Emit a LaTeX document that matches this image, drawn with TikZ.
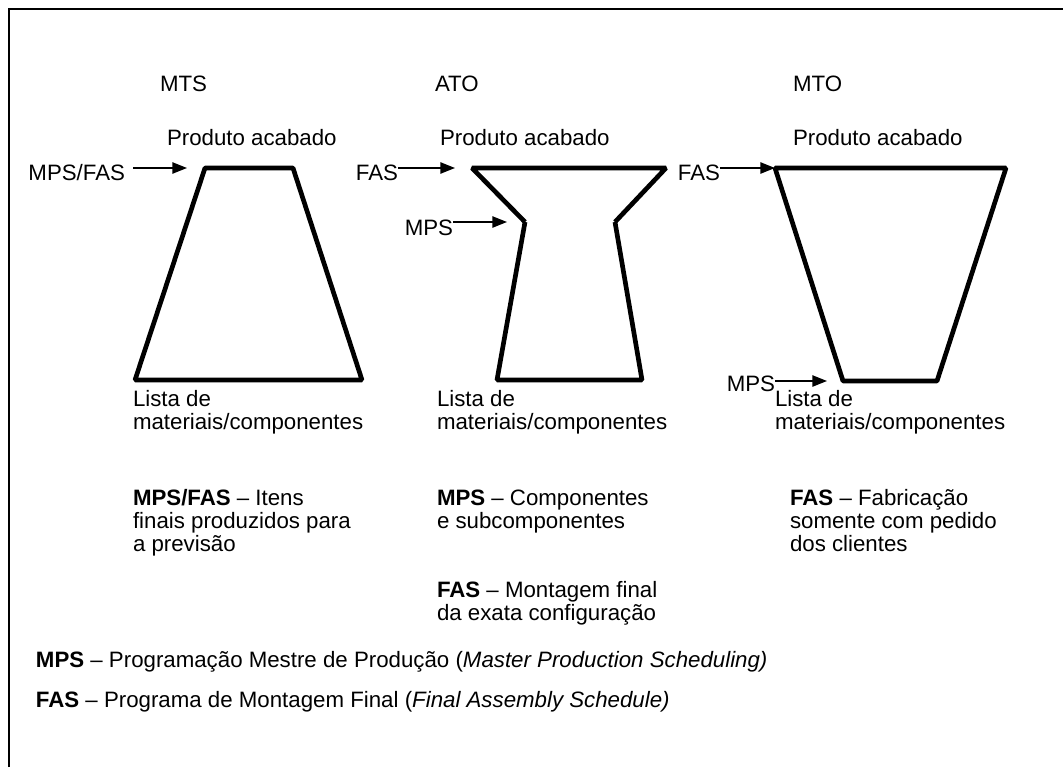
\documentclass[tikz,border=0pt]{standalone}
\usepackage{fontspec}
\setmainfont{Liberation Sans}
\usetikzlibrary{arrows.meta}
% left-aligned block of lines whose baseline is that of its first line
\newcommand\txtlines[1]{\vtop{\halign{##\hfil\cr#1\crcr}}}
\begin{document}
\begin{tikzpicture}[x=0.75pt,y=-0.75pt,
  every node/.style={inner sep=0pt,outer sep=0pt,anchor=base west,
    font=\fontsize{16.7pt}{17.6pt}\selectfont},
  funnel/.style={line width=3.5pt,line join=bevel},
  feed/.style={line width=1.1pt,-{Triangle[length=11pt,width=8.5pt]}},
  frame/.style={line width=1.1pt}]
\useasboundingbox (0,0) rectangle (1063,767);
% outer frame
\draw[frame] (9,767) -- (9,9) -- (1063,9);

% column titles
\node (tmts) at (160,92) {MTS};
\node (tato) at (435,92) {ATO};
\node (tmto) at (793,92) {MTO};
\node (pmts) at (167,145) {Produto acabado};
\node (pato) at (440,145) {Produto acabado};
\node (pmto) at (793,145) {Produto acabado};

% MTS: narrow top, wide base
\coordinate (m1) at (205,168);
\coordinate (m2) at (293,168);
\coordinate (m3) at (362,380);
\coordinate (m4) at (135,380);
\draw[funnel] (m1) -- (m2) -- (m3) -- (m4) -- cycle;

% ATO: waisted shape
\coordinate (a1) at (472,168);
\coordinate (a2) at (666,168);
\coordinate (a3) at (615,222);
\coordinate (a4) at (642,380);
\coordinate (a5) at (497,380);
\coordinate (a6) at (525,222);
\draw[funnel] (a6) -- (a1) -- (a2) -- (a3);
\draw[funnel] (a6) -- (a5) -- (a4) -- (a3);

% MTO: wide top, narrow base
\coordinate (o1) at (775,168);
\coordinate (o2) at (1006,168);
\coordinate (o3) at (937,381);
\coordinate (o4) at (843,381);
\draw[funnel] (o1) -- (o2) -- (o3) -- (o4) -- cycle;

% schedule entry points
\node[anchor=base east] (lmf) at (125,180) {MPS/FAS};
\coordinate (emf) at (187,168);
\draw[feed] (lmf.east |- emf) ++(8,0) -- (emf);

\node[anchor=base east] (laf) at (398,180) {FAS};
\coordinate (eaf) at (455,168);
\draw[feed] (laf.east |- eaf) -- (eaf);

\node[anchor=base east] (lam) at (453,235) {MPS};
\coordinate (eam) at (507,222);
\draw[feed] (lam.east |- eam) -- (eam);

\node[anchor=base east] (lof) at (720,180) {FAS};
\coordinate (eof) at (775,168);
\draw[feed] (lof.east |- eof) -- (eof);

\node[anchor=base east] (lom) at (775,391) {MPS};
\coordinate (eom) at (827,381);
\draw[feed] (lom.east |- eom) -- (eom);

% bill of materials
\node (bmts) at (133,406) {\txtlines{Lista de\cr materiais/componentes}};
\node (bato) at (437,406) {\txtlines{Lista de\cr materiais/componentes}};
\node (bmto) at (775,406) {\txtlines{Lista de\cr materiais/componentes}};

% descriptions
\node (dmts) at (133,505) {\txtlines{\textbf{MPS/FAS} -- Itens\cr finais produzidos para\cr a previsão}};
\node (dato) at (437,505) {\txtlines{\textbf{MPS} -- Componentes\cr e subcomponentes}};
\node (dato2) at (437,597) {\txtlines{\textbf{FAS} -- Montagem final\cr da exata configuração}};
\node (dmto) at (790,505) {\txtlines{\textbf{FAS} -- Fabricação\cr somente com pedido\cr dos clientes}};

% legend
\node (gmps) at (36,667) {\textbf{MPS} -- Programação Mestre de Produção (\textit{Master Production Scheduling)}};
\node (gfas) at (36,707) {\textbf{FAS} -- Programa de Montagem Final (\textit{Final Assembly Schedule)}};
\end{tikzpicture}
\end{document}
